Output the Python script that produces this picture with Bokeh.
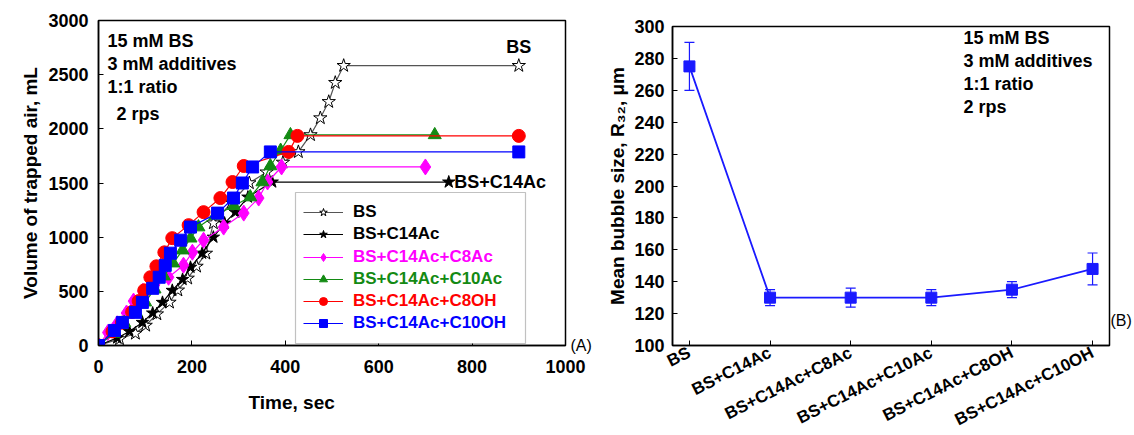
from bokeh.plotting import figure
from bokeh.layouts import row, column
from bokeh.models import (ColumnDataSource, Legend, LegendItem, Label, Whisker, TeeHead,
                          FixedTicker, BoxAnnotation, Range1d, LinearAxis, Title)
from bokeh.embed import file_html
from bokeh.resources import INLINE

# ---------------- data: panel A (time, s / trapped air volume, mL) ----------------
bs_t = [0, 45, 79, 101, 125, 152, 170, 191, 210, 230, 246, 285, 323, 360, 395, 428, 454, 475, 493, 507, 525, 900]
bs_v = [0, 60, 111, 185, 290, 398, 510, 620, 730, 850, 1130, 1320, 1500, 1600, 1690, 1787, 1944, 2100, 2250, 2426, 2583, 2583]

c14_t = [0, 40, 66, 94, 116, 137, 158, 180, 197, 222, 246, 270, 293, 320, 372, 750]
c14_v = [0, 70, 130, 213, 300, 398, 509, 610, 722, 852, 1000, 1130, 1231, 1370, 1509, 1509]

c8ac_t = [0, 20, 40, 60, 75, 95, 120, 150, 182, 201, 225, 268, 311, 343, 362, 392, 700]
c8ac_v = [0, 120, 200, 300, 410, 500, 560, 630, 741, 861, 972, 1093, 1222, 1361, 1509, 1648, 1648]

c10ac_t = [0, 32, 55, 80, 100, 120, 140, 160, 180, 197, 214, 250, 290, 325, 351, 368, 390, 411, 720]
c10ac_v = [0, 110, 210, 310, 400, 520, 640, 760, 880, 990, 1093, 1200, 1290, 1370, 1509, 1657, 1800, 1944, 1944]

c8oh_t = [0, 30, 50, 72, 86, 98, 111, 124, 141, 158, 193, 225, 261, 287, 311, 407, 426, 900]
c8oh_v = [0, 130, 210, 310, 410, 509, 630, 731, 860, 991, 1111, 1231, 1361, 1509, 1657, 1787, 1935, 1935]

c10oh_t = [0, 34, 51, 79, 94, 116, 130, 143, 154, 176, 197, 255, 289, 308, 330, 368, 900]
c10oh_v = [0, 139, 213, 306, 398, 528, 630, 740, 852, 972, 1093, 1222, 1361, 1500, 1648, 1787, 1787]

series_names = ["BS", "BS+C14Ac", "BS+C14Ac+C8Ac", "BS+C14Ac+C10Ac", "BS+C14Ac+C8OH", "BS+C14Ac+C10OH"]

# ---------------- data: panel B ----------------
categories = ["BS", "BS+C14Ac", "BS+C14Ac+C8Ac", "BS+C14Ac+C10Ac", "BS+C14Ac+C8OH", "BS+C14Ac+C10OH"]
r32 = [275, 130, 130, 130, 135, 148]
r32_err = [15, 5, 6, 5, 5, 10]

x_ticks_a = [0, 200, 400, 600, 800, 1000]
y_ticks_a = [0, 500, 1000, 1500, 2000, 2500, 3000]
y_ticks_b = [100, 120, 140, 160, 180, 200, 220, 240, 260, 280, 300]

note_lines = ["15 mM BS", "3 mM additives", "1:1 ratio", "2 rps"]

FONT = "Liberation Sans"


def style_axes(p):
    for ax in (p.xaxis[0], p.yaxis[0]):
        ax.major_label_text_font = FONT
        ax.major_label_text_font_style = "bold"
        ax.major_label_text_font_size = "18px"
        ax.major_label_text_color = "black"
        ax.axis_label_text_font = FONT
        ax.axis_label_text_font_style = "bold"
        ax.axis_label_text_font_size = "19px"
        ax.axis_label_text_color = "black"
        ax.major_tick_in = 5
        ax.major_tick_out = 0
        ax.minor_tick_line_color = None
        ax.axis_line_color = "black"
        ax.axis_line_width = 1.5
        ax.major_tick_line_color = "black"
    p.xgrid.grid_line_color = None
    p.ygrid.grid_line_color = None
    p.outline_line_color = "black"
    p.outline_line_width = 1.5
    p.outline_line_alpha = 1


def panel_tag(p, yval, text, standoff):
    ax = LinearAxis(ticker=FixedTicker(ticks=[yval]), major_label_overrides={yval: text},
                    axis_line_color=None, major_tick_line_color=None,
                    minor_tick_line_color=None, major_tick_in=0, major_tick_out=0,
                    minor_tick_in=0, minor_tick_out=0, axis_label_standoff=0,
                    major_label_standoff=standoff,
                    major_label_text_font=FONT, major_label_text_font_size="16px",
                    major_label_text_color="black", major_label_text_font_style="normal")
    p.add_layout(ax, "right")


# ---------------- panel A ----------------
pA = figure(frame_width=467, frame_height=325, output_backend="svg", toolbar_location=None,
            x_range=Range1d(0, 1000), y_range=Range1d(0, 3000),
            min_border_left=98, min_border_right=35, min_border_top=20, min_border_bottom=90)
style_axes(pA)
pA.xaxis.ticker = FixedTicker(ticks=x_ticks_a)
pA.xaxis.major_label_standoff = 14
pA.yaxis.ticker = FixedTicker(ticks=y_ticks_a)
pA.yaxis.major_label_standoff = 10
pA.yaxis.axis_label = "Volume of trapped air, mL"
pA.yaxis.axis_label_standoff = 4

specs = [
    (bs_t, bs_v, "star", "black", "white", "#555555", 14),
    (c14_t, c14_v, "star", "black", "black", "black", 13),
    (c8ac_t, c8ac_v, "diamond", "#ff00ff", "#ff00ff", "#ff00ff", 16),
    (c10ac_t, c10ac_v, "triangle", "#138a13", "#138a13", "#138a13", 13),
    (c8oh_t, c8oh_v, "circle", "#ff0000", "#ff0000", "#ff0000", 13),
    (c10oh_t, c10oh_v, "square", "#0000ff", "#0000ff", "#0000ff", 12),
]
text_colors = ["black", "black", "#ff00ff", "#138a13", "#ff0000", "#0000ff"]

renderers = []
for (t, v, marker, lc, fc, linec, size), name in zip(specs, series_names):
    src = ColumnDataSource(dict(t=t, v=v))
    lr = pA.line("t", "v", source=src, line_color=linec, line_width=1.2)
    sr = pA.scatter("t", "v", source=src, marker=marker, size=size,
                    line_color=lc, fill_color=fc, line_width=1)
    renderers.append((lr, sr))

# legend: box + one colored legend per series
pA.add_layout(BoxAnnotation(left=197, right=427, bottom=2, top=153,
                            left_units="screen", right_units="screen",
                            bottom_units="screen", top_units="screen",
                            fill_color="white", fill_alpha=1,
                            line_color="#333333", line_width=1.2))
row_centers = [212, 234, 257, 279, 301, 323]
for (lr, sr), name, col, yc in zip(renderers, series_names, text_colors, row_centers):
    leg = Legend(items=[LegendItem(label=name, renderers=[lr, sr])],
                 location=(205, 345 - yc - 10),
                 glyph_width=40, glyph_height=20, label_height=20,
                 padding=0, margin=0, spacing=0, label_standoff=10,
                 border_line_alpha=0, background_fill_alpha=0,
                 label_text_font=FONT, label_text_font_style="bold",
                 label_text_font_size="17px", label_text_color=col)
    pA.add_layout(leg)

# notes
note_y = [305, 282, 259, 232]
note_x = [9, 9, 9, 18]
for txt, xx, yy in zip(note_lines, note_x, note_y):
    pA.add_layout(Label(x=xx, y=yy, x_units="screen", y_units="screen", text=txt,
                        text_font=FONT, text_font_style="bold", text_font_size="18px",
                        text_color="black", text_baseline="middle", text_align="left"))

pA.add_layout(Label(x=bs_t[-1], y=bs_v[-1] + 170, text="BS", text_font=FONT,
                    text_font_style="bold", text_font_size="18px", text_color="black",
                    text_align="center", text_baseline="middle"))
pA.add_layout(Label(x=c14_t[-1] + 12, y=c14_v[-1], text="BS+C14Ac", text_font=FONT,
                    text_font_style="bold", text_font_size="18px", text_color="black",
                    text_align="left", text_baseline="middle"))
pA.add_layout(Title(text="Time, sec", align="left", offset=150, standoff=29,
                    text_font=FONT, text_font_style="bold", text_font_size="19px",
                    text_color="black"), "below")
panel_tag(pA, 0, "(A)", 5)

# ---------------- panel B ----------------
xi = list(range(len(categories)))
pB = figure(frame_width=437, frame_height=319, output_backend="svg", toolbar_location=None,
            x_range=Range1d(-0.21, len(categories) - 1 + 0.21), y_range=Range1d(100, 300),
            min_border_left=72, min_border_right=25, min_border_top=26, min_border_bottom=90)
style_axes(pB)
pB.xaxis.ticker = FixedTicker(ticks=xi)
pB.xaxis.major_label_overrides = {i: c for i, c in zip(xi, categories)}
pB.xaxis.major_label_orientation = 0.47
pB.xaxis.major_label_standoff = 6
pB.xaxis.major_label_text_font_size = "17px"
pB.yaxis.ticker = FixedTicker(ticks=y_ticks_b)
pB.yaxis.major_label_standoff = 8
pB.yaxis.axis_label = "Mean bubble size, R\u2083\u2082, \u03bcm"
pB.yaxis.axis_label_standoff = 3

srcB = ColumnDataSource(dict(x=xi, y=r32,
                             lo=[a - b for a, b in zip(r32, r32_err)],
                             hi=[a + b for a, b in zip(r32, r32_err)]))
pB.add_layout(Whisker(source=srcB, base="x", upper="hi", lower="lo",
                      line_color="#1a1aff", line_width=1.2,
                      upper_head=TeeHead(size=10, line_color="#1a1aff", line_width=1.2),
                      lower_head=TeeHead(size=10, line_color="#1a1aff", line_width=1.2)))
pB.line("x", "y", source=srcB, line_color="#1a1aff", line_width=1.8)
pB.scatter("x", "y", source=srcB, marker="square", size=11, fill_color="#1a1aff",
           line_color="#1a1aff")

for i, txt in enumerate(note_lines):
    pB.add_layout(Label(x=291, y=308 - 23 * i, x_units="screen", y_units="screen", text=txt,
                        text_font=FONT, text_font_style="bold", text_font_size="18px",
                        text_color="black", text_baseline="middle", text_align="left"))
panel_tag(pB, 115.6, "(B)", 1)

layout = row(column(pA), column(pB))
open("out.html", "w").write(file_html(layout, INLINE))
